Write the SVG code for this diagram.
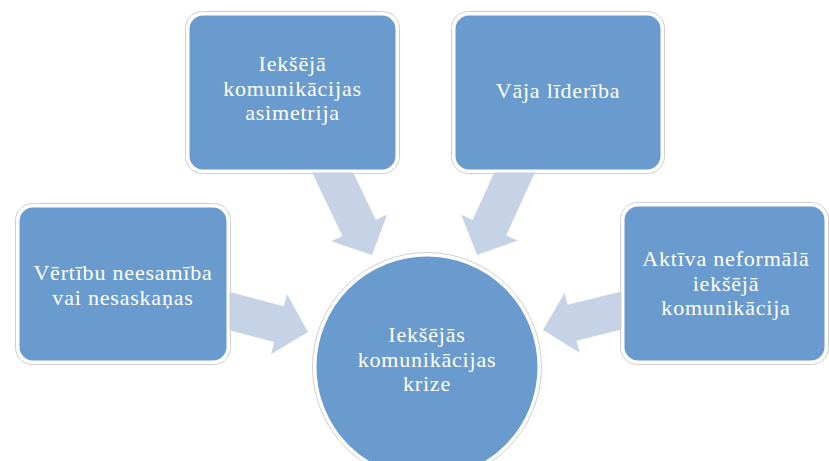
<svg xmlns="http://www.w3.org/2000/svg" width="829" height="461" viewBox="0 0 829 461">
  <style>
    .box { fill: #6A9BCE; stroke: #FFFFFF; stroke-width: 3; }
    .halo { fill: none; stroke: #CFCFCF; stroke-width: 1; }
    .arrow { fill: #C6D3E6; stroke: none; }
    .label { font-family: "Liberation Serif", "Times New Roman", serif; font-size: 22px; letter-spacing: 0.8px; fill: #FFFFFF; text-anchor: middle; }
  </style>
  <defs>
    <!-- block arrow, tip at origin, pointing along +x -->
    <path id="blockArrow" d="M0,0 L-30,-31 L-30,-18.5 L-110,-18.5 L-110,18.5 L-30,18.5 L-30,31 Z"/>
  </defs>

  <rect width="829" height="461" fill="#FFFFFF"/>

  <g id="connectors">
    <use href="#blockArrow" class="arrow" transform="translate(308,332) rotate(15)"/>
    <use href="#blockArrow" class="arrow" transform="translate(543,330) rotate(166)"/>
    <use href="#blockArrow" class="arrow" transform="translate(372,255) rotate(64.5)"/>
    <use href="#blockArrow" class="arrow" transform="translate(477,255) rotate(114.5)"/>
  </g>

  <g id="node-asimetrija">
    <rect class="halo" x="185.5" y="11.5" width="214" height="162" rx="17"/>
    <rect class="box" x="188" y="14" width="209" height="157" rx="15"/>
    <text class="label" x="292.5" y="71">Iekšējā</text>
    <text class="label" x="292.5" y="95.5">komunikācijas</text>
    <text class="label" x="292.5" y="120">asimetrija</text>
  </g>

  <g id="node-liderība">
    <rect class="halo" x="451.5" y="11.5" width="213" height="162" rx="17"/>
    <rect class="box" x="454" y="14" width="208" height="157" rx="15"/>
    <text class="label" x="558" y="98">Vāja līderība</text>
  </g>

  <g id="node-vertibas">
    <rect class="halo" x="15.5" y="203.5" width="215" height="161" rx="17"/>
    <rect class="box" x="18" y="206" width="210" height="156" rx="15"/>
    <text class="label" x="123" y="280">Vērtību neesamība</text>
    <text class="label" x="123" y="304.5">vai nesaskaņas</text>
  </g>

  <g id="node-neformala">
    <rect class="halo" x="620.5" y="202.5" width="208" height="162" rx="17"/>
    <rect class="box" x="623" y="205" width="203" height="157" rx="15"/>
    <text class="label" x="726" y="266">Aktīva neformālā</text>
    <text class="label" x="726" y="290.5">iekšējā</text>
    <text class="label" x="726" y="315">komunikācija</text>
  </g>

  <g id="node-krize">
    <circle class="halo" cx="427" cy="367" r="114.5"/>
    <circle class="box" cx="427" cy="367" r="112"/>
    <text class="label" x="427" y="342">Iekšējās</text>
    <text class="label" x="427" y="366.5">komunikācijas</text>
    <text class="label" x="427" y="391">krize</text>
  </g>
</svg>
